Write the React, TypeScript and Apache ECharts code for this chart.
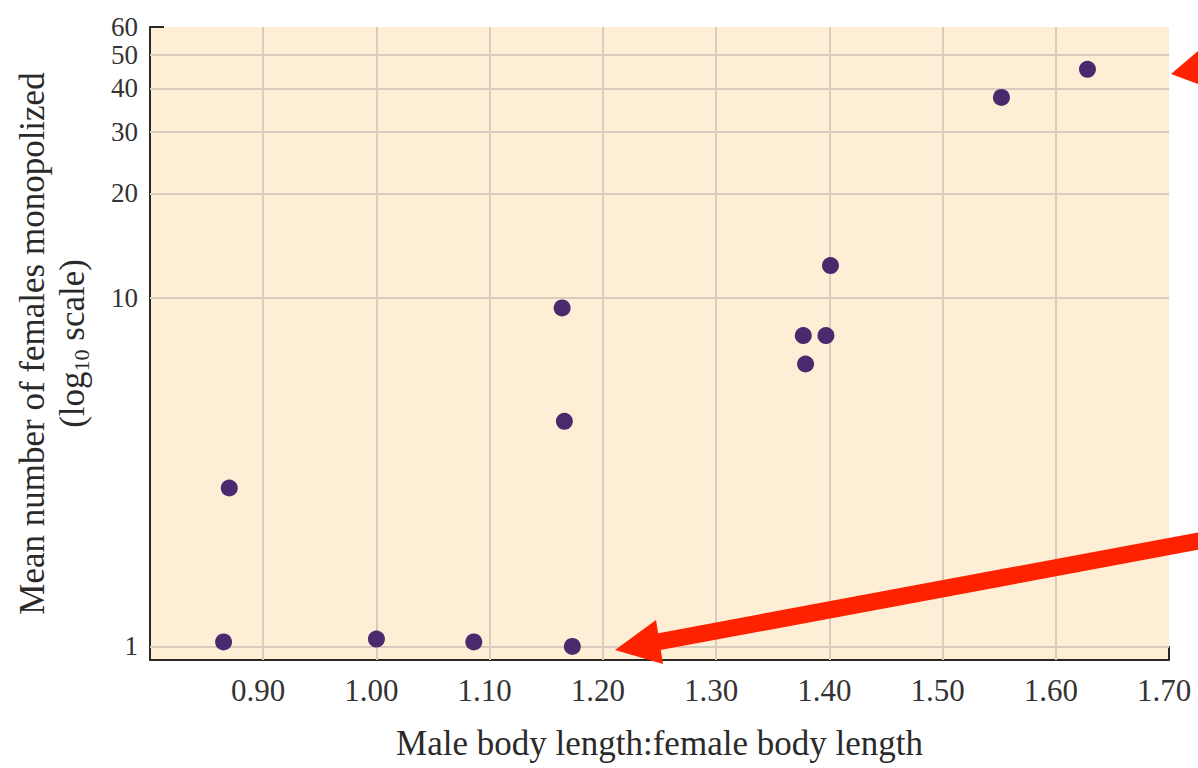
import React, { useEffect, useRef } from 'react';
import * as echarts from 'echarts';

// Male body length : female body length ratio (x) and mean number of females monopolized (y)
const ratio = [0.865, 0.87, 1.0, 1.086, 1.173, 1.164, 1.166, 1.401, 1.377, 1.397, 1.379, 1.552, 1.628];
const females = [1.03, 2.85, 1.05, 1.03, 1.0, 9.37, 4.43, 12.4, 7.81, 7.81, 6.47, 37.7, 45.4];

const xTickValues = [0.9, 1.0, 1.1, 1.2, 1.3, 1.4, 1.5, 1.6, 1.7];
const xGridValues = [0.9, 1.0, 1.1, 1.2, 1.3, 1.4, 1.5, 1.6];
const yTickValues = [1, 10, 20, 30, 40, 50, 60];
const yGridValues = [1, 10, 20, 30, 40, 50];

const X_MIN = 0.8;
const X_MAX = 1.7;
const Y_MIN = 0.914;
const Y_MAX = 60.05;

const FONT = '"Liberation Serif", "DejaVu Serif", serif';
const INK = '#2b2724';
const GRID_COLOR = '#d8ccbe';
const DOT = '#4a2a6c';
const RED = '#ff2200';

export default function App() {
  const ref = useRef<HTMLDivElement>(null);

  useEffect(() => {
    if (!ref.current) return;
    const chart = echarts.init(ref.current, undefined, { renderer: 'svg' });

    const gridLineData: any[] = [
      ...xGridValues.map((v) => ({ xAxis: v })),
      ...yGridValues.map((v) => ({ yAxis: v })),
    ];

    const yLabelStyle = {
      fontFamily: FONT,
      fontSize: 27,
      lineHeight: 24,
      color: '#333',
      margin: 12,
      hideOverlap: false,
      formatter: (v: number) => String(Math.round(v)),
    };

    chart.setOption({
      animation: false,
      backgroundColor: '#ffffff',
      grid: {
        left: 150,
        right: 29,
        top: 27,
        bottom: 108,
        show: true,
        backgroundColor: '#fdeed5',
        borderWidth: 0,
      },
      xAxis: {
        type: 'value',
        min: X_MIN,
        max: X_MAX,
        interval: 0.1,
        axisLine: { show: true, onZero: false, lineStyle: { color: INK, width: 2 } },
        axisTick: {
          show: true,
          inside: true,
          length: 14,
          lineStyle: { color: INK, width: 2 },
          customValues: xTickValues,
        },
        axisLabel: {
          customValues: xTickValues,
          fontFamily: FONT,
          fontSize: 31,
          color: '#333',
          margin: 15,
          padding: [0, 10, 0, 0],
          showMaxLabel: true,
          formatter: (v: number) => v.toFixed(2),
        },
        splitLine: { show: false },
        name: 'Male body length:female body length',
        nameLocation: 'middle',
        nameGap: 66,
        nameTextStyle: { fontFamily: FONT, fontSize: 35, color: '#2a2a2a' },
      },
      yAxis: [
        {
          type: 'log',
          logBase: 10,
          min: Y_MIN,
          max: Y_MAX,
          axisLine: { show: true, onZero: false, lineStyle: { color: INK, width: 2 } },
          axisTick: {
            show: true,
            inside: true,
            length: 14,
            lineStyle: { color: INK, width: 2 },
            customValues: yTickValues,
          },
          axisLabel: {
            ...yLabelStyle,
            customValues: yTickValues.slice(0, -1),
            showMaxLabel: true,
            showMinLabel: true,
          },
          splitLine: { show: false },
          minorTick: { show: false },
          minorSplitLine: { show: false },
          name: '{a|Mean number of females monopolized}\n{a|(log}{s|10}{a| scale)}',
          nameLocation: 'middle',
          nameRotate: 90,
          nameGap: 58,
          nameTextStyle: {
            fontFamily: FONT,
            fontSize: 35,
            color: '#2a2a2a',
            lineHeight: 40,
            rich: {
              a: { fontFamily: FONT, fontSize: 35, color: '#2a2a2a', lineHeight: 40 },
              s: { fontFamily: FONT, fontSize: 22, color: '#2a2a2a', lineHeight: 40, verticalAlign: 'bottom' },
            },
          },
        },
        {
          type: 'log',
          logBase: 10,
          min: Y_MIN,
          max: Y_MAX,
          position: 'left',
          offset: 0,
          axisLine: { show: false },
          axisTick: { show: false },
          splitLine: { show: false },
          minorTick: { show: false },
          minorSplitLine: { show: false },
          axisLabel: {
            ...yLabelStyle,
            customValues: yTickValues.slice(-1),
            showMaxLabel: true,
            padding: [0, 0, 8, 0],
          },
        },
      ],
      series: [
        {
          type: 'scatter',
          data: [],
          z: 1,
          silent: true,
          markLine: {
            silent: true,
            symbol: 'none',
            label: { show: false },
            lineStyle: { color: GRID_COLOR, width: 2, type: 'solid' },
            data: gridLineData,
          },
        },
        {
          type: 'scatter',
          z: 5,
          symbol: 'circle',
          symbolSize: 17,
          itemStyle: { color: DOT, opacity: 1 },
          data: ratio.map((x, i) => [x, females[i]]),
        },
      ],
      graphic: [
        {
          type: 'line',
          z: 100,
          shape: { x1: 652, y1: 643, x2: 1215, y2: 538 },
          style: { stroke: RED, lineWidth: 17 },
        },
        {
          type: 'polygon',
          z: 101,
          shape: { points: [[615, 650], [656, 620], [663, 664]] },
          style: { fill: RED },
        },
        {
          type: 'polygon',
          z: 101,
          shape: { points: [[1171, 74], [1198, 51], [1198, 84]] },
          style: { fill: RED },
        },
      ],
    });

    return () => chart.dispose();
  }, []);

  return (
    <div
      ref={ref}
      style={{ position: 'fixed', left: 0, top: 0, width: 1198, height: 768 }}
    />
  );
}
